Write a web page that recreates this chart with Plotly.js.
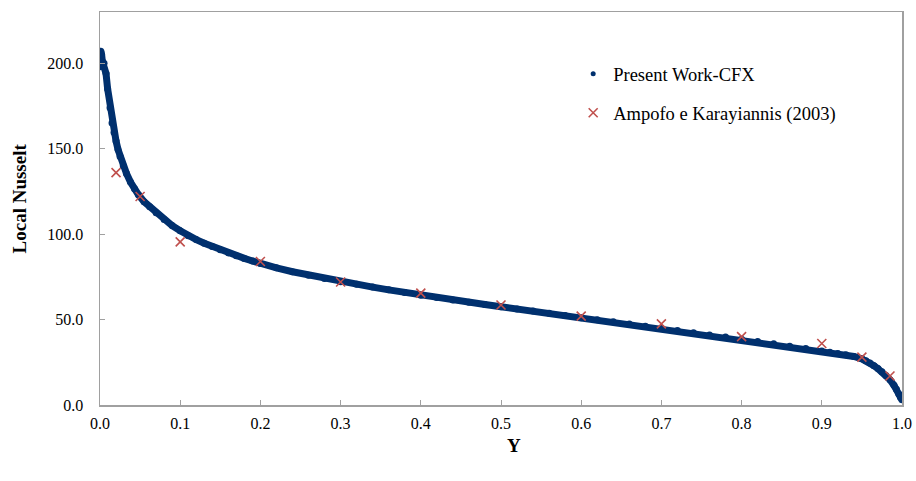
<!DOCTYPE html>
<html>
<head>
<meta charset="utf-8">
<script src="https://cdn.plot.ly/plotly-3.0.1.min.js"></script>
<style>html,body{margin:0;padding:0;background:#fff;}</style>
</head>
<body>
<div id="chart" style="width:916px;height:481px;"></div>
<script>
// Present Work-CFX (dense curve)
const cfxY = [0, 0.001, 0.002, 0.003, 0.004, 0.005, 0.0075, 0.0095, 0.0125, 0.015, 0.0175, 0.02, 0.0225, 0.025, 0.029, 0.033, 0.038, 0.043, 0.048, 0.055, 0.062, 0.07, 0.08, 0.09, 0.1, 0.11, 0.12, 0.13, 0.14, 0.15, 0.16, 0.17, 0.18, 0.19, 0.2, 0.22, 0.24, 0.26, 0.28, 0.3, 0.32, 0.34, 0.36, 0.38, 0.4, 0.42, 0.44, 0.46, 0.48, 0.5, 0.52, 0.54, 0.56, 0.58, 0.6, 0.62, 0.64, 0.66, 0.68, 0.7, 0.72, 0.74, 0.76, 0.78, 0.8, 0.82, 0.84, 0.86, 0.88, 0.9, 0.91, 0.92, 0.93, 0.94, 0.95, 0.955, 0.96, 0.965, 0.97, 0.975, 0.98, 0.985, 0.99, 0.993, 0.996, 0.998, 1.0];
const cfxNu = [198, 207, 205, 201, 199, 200, 194, 185, 174, 165, 159.5, 154.5, 149.5, 145.5, 140, 135.5, 130.5, 126.5, 123, 119, 116, 112.5, 108.5, 105, 102, 99, 96.8, 94.7, 92.7, 90.8, 89, 87.3, 85.8, 84.3, 82.8, 80.3, 78, 76, 74, 72.2, 70.6, 69, 67.4, 65.8, 64.3, 62.9, 61.5, 60.1, 58.8, 57.5, 56.2, 55, 53.7, 52.4, 51.1, 49.9, 48.7, 47.4, 46.1, 44.9, 43.6, 42.3, 41, 39.8, 38.5, 37.1, 35.8, 34.4, 33, 31.6, 30.9, 30.2, 29.4, 28.4, 27, 25.9, 24.6, 23, 21.3, 19.4, 17.3, 14.8, 11.5, 9.2, 6.5, 4.6, 3];

// Ampofo e Karayiannis (2003)
const refY = [0.02, 0.05, 0.1, 0.2, 0.3, 0.4, 0.5, 0.6, 0.7, 0.8, 0.9, 0.95, 0.985];
const refNu = [136, 122, 95.5, 84, 72, 65.5, 58.5, 52, 47.5, 40, 36, 28, 17];

const xTicks = [0, 0.1, 0.2, 0.3, 0.4, 0.5, 0.6, 0.7, 0.8, 0.9, 1.0];
const yTicks = [0, 50, 100, 150, 200];

const navy = '#00306e';
const red = '#c0504d';
const grey = '#a0a0a0';
const serif = 'Liberation Serif, Times New Roman, serif';

const traces = [
  {x: cfxY, y: cfxNu, mode: 'lines', line: {color: navy, width: 7}, showlegend: false, hoverinfo: 'skip'},
  {x: cfxY, y: cfxNu, mode: 'markers', showlegend: false,
   marker: {color: navy, size: 7, symbol: 'circle'}},
  {x: [null], y: [null], mode: 'markers', name: 'Present Work-CFX', legendgroup: 'a',
   marker: {color: navy, size: 5, symbol: 'circle'}},
  {x: refY, y: refNu, mode: 'markers', name: 'Ampofo e Karayiannis (2003)', legendgroup: 'b',
   marker: {color: red, size: 9, symbol: 'x-thin-open', line: {color: red, width: 1.6}}}
];

const layout = {
  width: 916, height: 481,
  margin: {l: 100, r: 14, t: 12, b: 76},
  paper_bgcolor: '#fff', plot_bgcolor: '#fff',
  font: {family: serif, color: '#000', size: 16},
  showlegend: true,
  legend: {x: 0.59, y: 0.89, xanchor: 'left', yanchor: 'top', bgcolor: 'rgba(0,0,0,0)',
    font: {family: serif, size: 18.5}, tracegroupgap: 12, itemwidth: 30},
  xaxis: {
    range: [0, 1], tickvals: xTicks, ticktext: xTicks.map(v => v.toFixed(1)),
    showgrid: false, zeroline: false, showline: true, linecolor: grey, linewidth: 1.5, mirror: true,
    ticks: 'inside', ticklen: 5, tickcolor: grey, tickwidth: 1,
    tickfont: {family: serif, size: 16}, ticklabelstandoff: 3
  },
  yaxis: {
    range: [0, 230], tickvals: yTicks, ticktext: yTicks.map(v => v.toFixed(1)),
    showgrid: false, zeroline: false, showline: true, linecolor: grey, linewidth: 1.5, mirror: true,
    ticks: 'inside', ticklen: 5, tickcolor: grey, tickwidth: 1,
    tickfont: {family: serif, size: 16}, ticklabelstandoff: 12
  },
  annotations: [
    {text: '<b>Y</b>', xref: 'paper', yref: 'paper', x: 0.516, y: -0.102,
     xanchor: 'center', yanchor: 'middle', showarrow: false, font: {family: serif, size: 19}},
    {text: '<b>Local Nusselt</b>', xref: 'paper', yref: 'paper', x: -0.0998, y: 0.5254,
     xanchor: 'center', yanchor: 'middle', textangle: -90, showarrow: false, font: {family: serif, size: 19}}
  ]
};

Plotly.newPlot('chart', traces, layout, {displayModeBar: false, staticPlot: true});
</script>
</body>
</html>
